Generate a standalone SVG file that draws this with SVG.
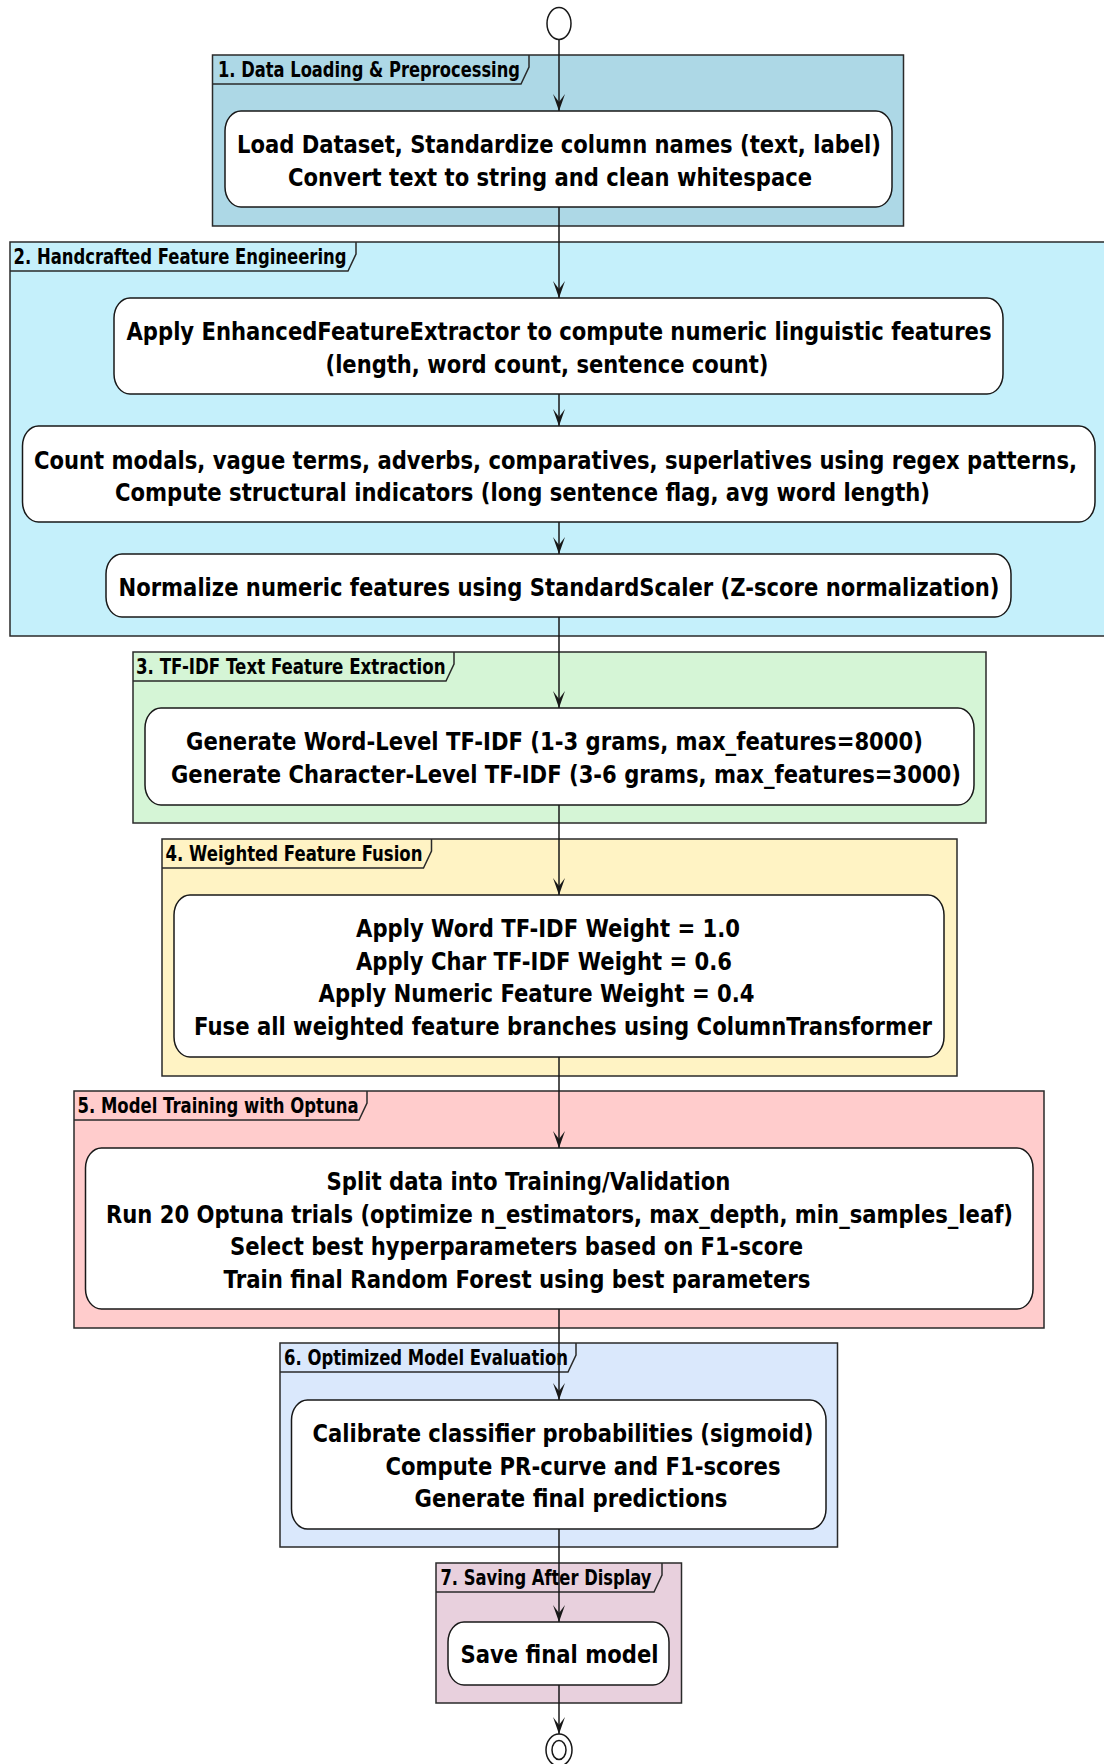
<svg xmlns="http://www.w3.org/2000/svg" width="1104" height="1764" viewBox="0 0 1104 1764">
<defs>
<style>
.frame{stroke:#2a2a2a;stroke-width:1.5}
.tab{fill:none;stroke:#2a2a2a;stroke-width:1.5}
.lbl{font-family:"DejaVu Sans","Liberation Sans",sans-serif;font-weight:bold;font-size:17px;fill:#000}
.box{fill:#fff;stroke:#181818;stroke-width:1.5}
.txt{font-family:"DejaVu Sans","Liberation Sans",sans-serif;font-weight:bold;font-size:21px;fill:#000}
.con{stroke:#181818;stroke-width:1.5;fill:none}
.circ{fill:#fff;stroke:#181818;stroke-width:1.5}
</style>
<marker id="arr" markerUnits="userSpaceOnUse" viewBox="0 0 17 12" refX="17" refY="6" markerWidth="17" markerHeight="12" orient="auto">
<path d="M0,0 L17,6 L0,12 L8,6 Z" fill="#181818"/>
</marker>
</defs>
<rect width="1104" height="1764" fill="#fff"/>

<g id="partition1">
<rect class="frame" x="212.5" y="55" width="691" height="171" fill="#ADD8E6"/>
<polyline class="tab" points="212.5,84 521,84 529,67 529,55"/>
<text class="lbl" transform="translate(218 77) scale(1 1.25)" textLength="302" lengthAdjust="spacingAndGlyphs">1. Data Loading &amp; Preprocessing</text>
</g>
<g id="partition2">
<rect class="frame" x="10" y="242" width="1100" height="394" fill="#C5F0FB"/>
<polyline class="tab" points="10,271 348,271 356,254 356,242"/>
<text class="lbl" transform="translate(13.5 264) scale(1 1.25)" textLength="333" lengthAdjust="spacingAndGlyphs">2. Handcrafted Feature Engineering</text>
</g>
<g id="partition3">
<rect class="frame" x="133" y="652" width="853" height="171" fill="#D5F5D6"/>
<polyline class="tab" points="133,681 446,681 454,664 454,652"/>
<text class="lbl" transform="translate(136 674) scale(1 1.25)" textLength="309.5" lengthAdjust="spacingAndGlyphs">3. TF-IDF Text Feature Extraction</text>
</g>
<g id="partition4">
<rect class="frame" x="162" y="839" width="795" height="237" fill="#FFF3C4"/>
<polyline class="tab" points="162,868 423.5,868 431.5,851 431.5,839"/>
<text class="lbl" transform="translate(165.5 861) scale(1 1.25)" textLength="257" lengthAdjust="spacingAndGlyphs">4. Weighted Feature Fusion</text>
</g>
<g id="partition5">
<rect class="frame" x="74" y="1091" width="970" height="237" fill="#FFCCCC"/>
<polyline class="tab" points="74,1120 359,1120 367,1103 367,1091"/>
<text class="lbl" transform="translate(77.5 1113) scale(1 1.25)" textLength="281" lengthAdjust="spacingAndGlyphs">5. Model Training with Optuna</text>
</g>
<g id="partition6">
<rect class="frame" x="280" y="1343" width="557.5" height="204" fill="#DAE8FC"/>
<polyline class="tab" points="280,1372 568,1372 576,1355 576,1343"/>
<text class="lbl" transform="translate(284 1365) scale(1 1.25)" textLength="284" lengthAdjust="spacingAndGlyphs">6. Optimized Model Evaluation</text>
</g>
<g id="partition7">
<rect class="frame" x="436" y="1563" width="245.5" height="140" fill="#E8D0DD"/>
<polyline class="tab" points="436,1592 654,1592 662,1575 662,1563"/>
<text class="lbl" transform="translate(440.5 1585) scale(1 1.25)" textLength="211" lengthAdjust="spacingAndGlyphs">7. Saving After Display</text>
</g>

<g id="connectors">
<line class="con" x1="559" y1="39.5" x2="559" y2="111" marker-end="url(#arr)"/>
<line class="con" x1="559" y1="207" x2="559" y2="298" marker-end="url(#arr)"/>
<line class="con" x1="559" y1="394" x2="559" y2="426" marker-end="url(#arr)"/>
<line class="con" x1="559" y1="522" x2="559" y2="554" marker-end="url(#arr)"/>
<line class="con" x1="559" y1="617" x2="559" y2="708" marker-end="url(#arr)"/>
<line class="con" x1="559" y1="805" x2="559" y2="895" marker-end="url(#arr)"/>
<line class="con" x1="559" y1="1057" x2="559" y2="1148" marker-end="url(#arr)"/>
<line class="con" x1="559" y1="1309" x2="559" y2="1400" marker-end="url(#arr)"/>
<line class="con" x1="559" y1="1529" x2="559" y2="1622" marker-end="url(#arr)"/>
<line class="con" x1="559" y1="1685" x2="559" y2="1734" marker-end="url(#arr)"/>
</g>

<g id="start">
<ellipse class="circ" cx="559" cy="23.5" rx="12" ry="16"/>
</g>

<g id="load">
<rect class="box" x="225" y="111" width="667" height="96" rx="16" ry="20"/>
<text class="txt" transform="translate(237 153) scale(1 1.2)" textLength="644" lengthAdjust="spacingAndGlyphs">Load Dataset, Standardize column names (text, label)</text>
<text class="txt" transform="translate(288 185.6) scale(1 1.2)" textLength="524" lengthAdjust="spacingAndGlyphs">Convert text to string and clean whitespace</text>
</g>
<g id="extract">
<rect class="box" x="114" y="298" width="889" height="96" rx="16" ry="20"/>
<text class="txt" transform="translate(126.5 340) scale(1 1.2)" textLength="865" lengthAdjust="spacingAndGlyphs">Apply EnhancedFeatureExtractor to compute numeric linguistic features</text>
<text class="txt" transform="translate(325.5 372.6) scale(1 1.2)" textLength="443" lengthAdjust="spacingAndGlyphs">(length, word count, sentence count)</text>
</g>
<g id="count">
<rect class="box" x="22.5" y="426" width="1072.5" height="96" rx="16" ry="20"/>
<text class="txt" transform="translate(34 468.5) scale(1 1.2)" textLength="1043" lengthAdjust="spacingAndGlyphs">Count modals, vague terms, adverbs, comparatives, superlatives using regex patterns,</text>
<text class="txt" transform="translate(115 501) scale(1 1.2)" textLength="815" lengthAdjust="spacingAndGlyphs">Compute structural indicators (long sentence flag, avg word length)</text>
</g>
<g id="normalize">
<rect class="box" x="106" y="554" width="905" height="63" rx="16" ry="20"/>
<text class="txt" transform="translate(118.5 596) scale(1 1.2)" textLength="881" lengthAdjust="spacingAndGlyphs">Normalize numeric features using StandardScaler (Z-score normalization)</text>
</g>
<g id="tfidf">
<rect class="box" x="145" y="708" width="829" height="97" rx="16" ry="20"/>
<text class="txt" transform="translate(186 750) scale(1 1.2)" textLength="737" lengthAdjust="spacingAndGlyphs">Generate Word-Level TF-IDF (1-3 grams, max_features=8000)</text>
<text class="txt" transform="translate(171 782.6) scale(1 1.2)" textLength="790" lengthAdjust="spacingAndGlyphs">Generate Character-Level TF-IDF (3-6 grams, max_features=3000)</text>
</g>
<g id="fusion">
<rect class="box" x="174" y="895" width="770" height="162" rx="16" ry="20"/>
<text class="txt" transform="translate(356 937) scale(1 1.2)" textLength="384" lengthAdjust="spacingAndGlyphs">Apply Word TF-IDF Weight = 1.0</text>
<text class="txt" transform="translate(356 969.6) scale(1 1.2)" textLength="376" lengthAdjust="spacingAndGlyphs">Apply Char TF-IDF Weight = 0.6</text>
<text class="txt" transform="translate(318.5 1002.2) scale(1 1.2)" textLength="436" lengthAdjust="spacingAndGlyphs">Apply Numeric Feature Weight = 0.4</text>
<text class="txt" transform="translate(194 1034.8) scale(1 1.2)" textLength="738" lengthAdjust="spacingAndGlyphs">Fuse all weighted feature branches using ColumnTransformer</text>
</g>
<g id="training">
<rect class="box" x="85.5" y="1148" width="947.5" height="161" rx="16" ry="20"/>
<text class="txt" transform="translate(326.5 1190) scale(1 1.2)" textLength="404" lengthAdjust="spacingAndGlyphs">Split data into Training/Validation</text>
<text class="txt" transform="translate(106 1222.6) scale(1 1.2)" textLength="907" lengthAdjust="spacingAndGlyphs">Run 20 Optuna trials (optimize n_estimators, max_depth, min_samples_leaf)</text>
<text class="txt" transform="translate(230 1255.2) scale(1 1.2)" textLength="573" lengthAdjust="spacingAndGlyphs">Select best hyperparameters based on F1-score</text>
<text class="txt" transform="translate(223.5 1287.8) scale(1 1.2)" textLength="587" lengthAdjust="spacingAndGlyphs">Train final Random Forest using best parameters</text>
</g>
<g id="evaluation">
<rect class="box" x="291.5" y="1400" width="534.5" height="129" rx="16" ry="20"/>
<text class="txt" transform="translate(312.5 1442) scale(1 1.2)" textLength="501" lengthAdjust="spacingAndGlyphs">Calibrate classifier probabilities (sigmoid)</text>
<text class="txt" transform="translate(385.5 1474.6) scale(1 1.2)" textLength="395" lengthAdjust="spacingAndGlyphs">Compute PR-curve and F1-scores</text>
<text class="txt" transform="translate(414.5 1507.2) scale(1 1.2)" textLength="313" lengthAdjust="spacingAndGlyphs">Generate final predictions</text>
</g>
<g id="save">
<rect class="box" x="448" y="1622" width="221" height="63" rx="16" ry="20"/>
<text class="txt" transform="translate(460.5 1663) scale(1 1.2)" textLength="198" lengthAdjust="spacingAndGlyphs">Save final model</text>
</g>

<g id="end">
<ellipse class="circ" cx="559" cy="1750" rx="13" ry="16"/>
<ellipse fill="none" stroke="#181818" stroke-width="1.5" cx="559" cy="1750" rx="7" ry="9.5"/>
</g>
</svg>
